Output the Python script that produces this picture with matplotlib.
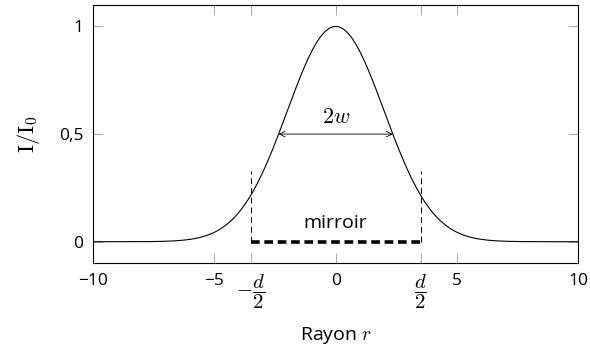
import numpy as np
import matplotlib
matplotlib.use("Agg")
import matplotlib.pyplot as plt

plt.rcParams['font.family'] = ['Open Sans', 'DejaVu Sans']
plt.rcParams['mathtext.fontset'] = 'cm'

# Gaussian beam parameters
w = 4.0          # beam radius (I/I0 = exp(-2 r^2 / w^2))
d = 7.0          # mirror diameter
r_min, r_max = -10, 10
mirror_mark_height = 0.33

x_ticks = [-10, -5, -d / 2, 0, d / 2, 5, 10]
x_ticklabels = ['\u221210', '\u22125', r'$-\dfrac{d}{2}$', '0', r'$\dfrac{d}{2}$', '5', '10']
y_ticks = [0, 0.5, 1]
y_ticklabels = ['0', '0,5', '1']

r = np.linspace(r_min, r_max, 600)
intensity = np.exp(-2 * r ** 2 / w ** 2)
r_half = w * np.sqrt(np.log(2) / 2)

fig, ax = plt.subplots(figsize=(5.9, 3.51), dpi=100)
fig.subplots_adjust(left=0.158, right=0.980, top=0.986, bottom=0.25)

ax.plot(r, intensity, color='black', lw=0.8)

# mirror
ax.plot([-d / 2, d / 2], [0, 0], color='black', lw=2.6, ls=(0, (2.4, 1.3)))
for xm in (-d / 2, d / 2):
    ax.plot([xm, xm], [0, mirror_mark_height], color='black', lw=0.7, ls=(0, (6, 4)))
ax.text(0, 0.045, 'mirroir', ha='center', va='bottom', fontsize=14)

# width arrow
ax.annotate('', xy=(-r_half, 0.5), xytext=(r_half, 0.5),
            arrowprops=dict(arrowstyle='<->', lw=0.6, color='black',
                            shrinkA=0, shrinkB=0, mutation_scale=10))
ax.text(0, 0.53, '$2w$', ha='center', va='bottom', fontsize=16)

ax.set_xlim(r_min, r_max)
ax.set_ylim(-0.1, 1.1)
ax.set_xticks(x_ticks)
ax.set_xticklabels(x_ticklabels)
ax.set_yticks(y_ticks)
ax.set_yticklabels(y_ticklabels)
ax.tick_params(direction='in', length=7, width=0.6, color='#999999',
               labelsize=12.5, top=True, right=True, pad=7)
for lbl in ax.get_xticklabels():
    if 'frac' in lbl.get_text():
        lbl.set_fontsize(15)
for s in ax.spines.values():
    s.set_linewidth(0.8)

ax.set_xlabel('Rayon $r$', fontsize=14, va='center')
ax.xaxis.set_label_coords(0.5, -0.28)
ax.set_ylabel(r'$\mathrm{I/I_0}$', fontsize=16, labelpad=12)

fig.savefig('out.png', dpi=100)
